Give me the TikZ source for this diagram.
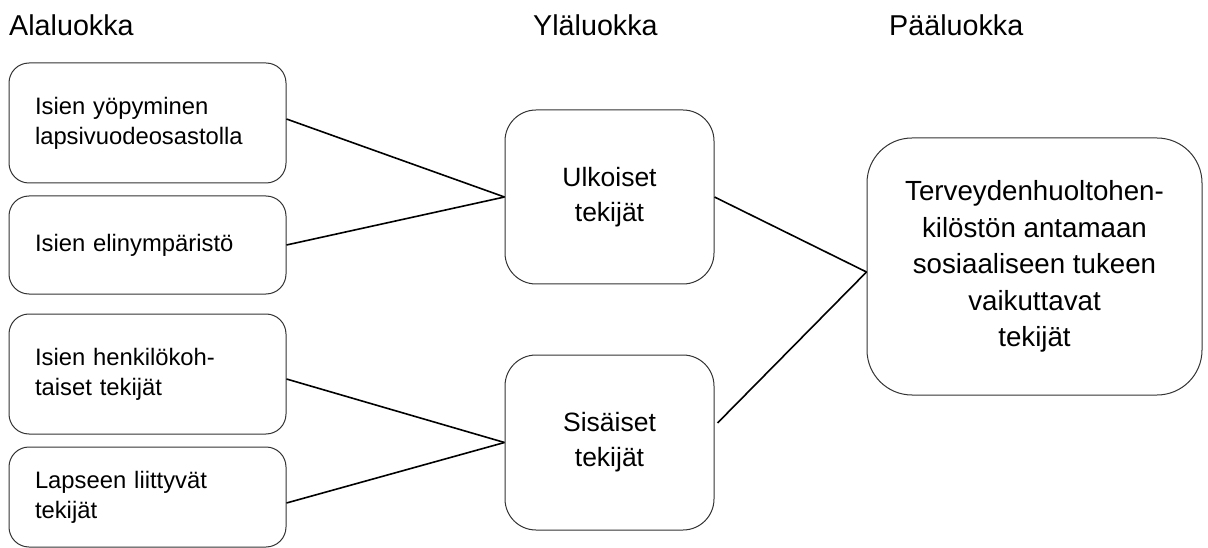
\documentclass[tikz,border=0pt]{standalone}
\usepackage{fontspec}
\setmainfont{Liberation Sans}
\usetikzlibrary{positioning}

\tikzset{
  header/.style={anchor=base west, inner sep=0pt, font=\fontsize{28.7}{33}\selectfont},
  box/.style={draw=black!80, line width=1pt, inner ysep=0pt},
  subbox/.style={box, rounded corners=20pt, minimum width=277pt, text width=225pt,
    inner xsep=26pt, align=left, font=\fontsize{23.8}{30}\selectfont},
  midbox/.style={box, rounded corners=31pt, minimum width=209pt, align=center,
    font=\fontsize{26.5}{35}\selectfont},
  mainbox/.style={box, rounded corners=45pt, minimum width=335pt, minimum height=257pt,
    align=center, font=\fontsize{27.7}{36.5}\selectfont},
  link/.style={draw=black, line width=1.6pt}
}

\begin{document}
\begin{tikzpicture}[x=1pt, y=-1pt]
  \useasboundingbox (0,0) rectangle (1208,548);

  % column headings
  \node[header] (hAla) at (9,36) {Alaluokka};
  \node[header] (hYla) at (533,36) {Yläluokka};
  \node[header] (hPaa) at (889,36) {Pääluokka};

  % sub-categories
  \node[subbox, minimum height=120pt] (s1) at (147.5,123) {Isien yöpyminen\\lapsivuodeosastolla};
  \node[subbox, minimum height=98pt]  (s2) at (147.5,245) {Isien elinympäristö};
  \node[subbox, minimum height=120pt] (s3) at (147.5,374) {Isien henkilökoh-\\taiset tekijät};
  \node[subbox, minimum height=100pt] (s4) at (147.5,497) {Lapseen liittyvät\\tekijät};

  % upper categories
  \node[midbox, minimum height=174pt] (u1) at (609.5,197) {Ulkoiset\\tekijät};
  \node[midbox, minimum height=175pt] (u2) at (609.5,442.5) {Sisäiset\\tekijät};

  % main category
  \node[mainbox] (m) at (1034.5,266.5) {Terveydenhuoltohen-\\kilöstön antamaan\\sosiaaliseen tukeen\\vaikuttavat\\tekijät};

  % connectors
  \draw[link] ([yshift=4pt]s1.east) -- (u1.west);
  \draw[link] (s2.east) -- (u1.west);
  \draw[link] ([yshift=-5pt]s3.east) -- (u2.west);
  \draw[link] ([yshift=-6pt]s4.east) -- (u2.west);
  \draw[link] (u1.east) -- ([yshift=-5.5pt]m.west);
  \draw[link] ([xshift=3pt,yshift=19.5pt]u2.east) -- ([yshift=-5.5pt]m.west);
\end{tikzpicture}
\end{document}
